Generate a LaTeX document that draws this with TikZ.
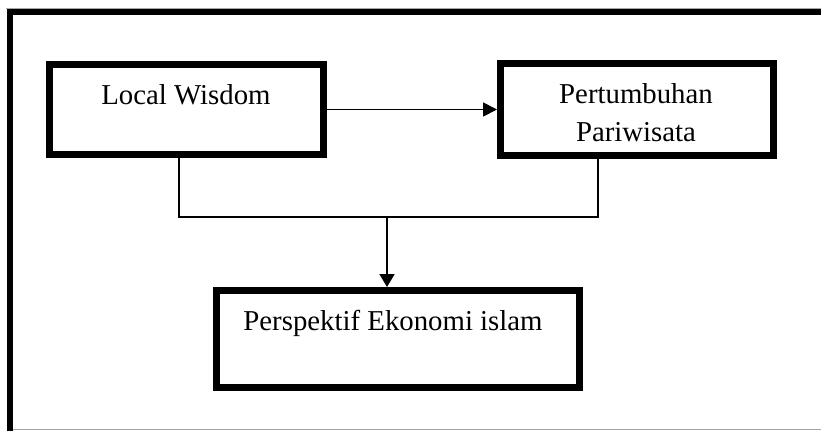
\documentclass[tikz,border=0pt]{standalone}
\usepackage{fontspec}
\setmainfont{Liberation Serif}
\usetikzlibrary{arrows.meta}
\begin{document}
\begin{tikzpicture}[x=1pt,y=-1pt,
  box/.style={draw=black,line width=7pt,rectangle,inner sep=0pt},
  lbl/.style={anchor=base,inner sep=0pt,font=\fontsize{28.8}{34}\selectfont},
  arr/.style={line width=1.8pt,-{Triangle[length=14pt,width=14pt]}},
  thinln/.style={line width=1.1pt}]
\useasboundingbox (0,0) rectangle (821,431);
% outer frame
\draw[gray!70,line width=0.9pt] (6,8.5) -- (821,8.5);
\draw[gray!70,line width=0.9pt] (13,429.5) -- (821,429.5);
\draw[line width=6pt] (9.7,431) -- (9.7,12.3) -- (821,12.3);
% boxes
\node[box,minimum width=274pt,minimum height=90pt] (lw) at (186.5,109.5) {};
\node[lbl] (lwt) at (186,104) {Local Wisdom};
\node[box,minimum width=273pt,minimum height=92pt] (pp) at (637,109.5) {};
\node[lbl] (ppt1) at (636,103) {Pertumbuhan};
\node[lbl] (ppt2) at (636,141) {Pariwisata};
\node[box,minimum width=363pt,minimum height=97pt] (pe) at (398,339) {};
\node[lbl] (pet) at (393,330) {Perspektif Ekonomi islam};
% connectors
\coordinate (jl) at (179,217);
\coordinate (jr) at (598,217);
\coordinate (jm) at (387,217);
\draw[arr] (lw.east) -- (pp.west);
\draw[thinln] (jl |- lw.south) -- (jl) -- (jr) -- (jr |- pp.south);
\draw[line width=1.8pt,-{Triangle[length=13pt,width=15pt]}] (jm) -- (jm |- pe.north);
\end{tikzpicture}
\end{document}
